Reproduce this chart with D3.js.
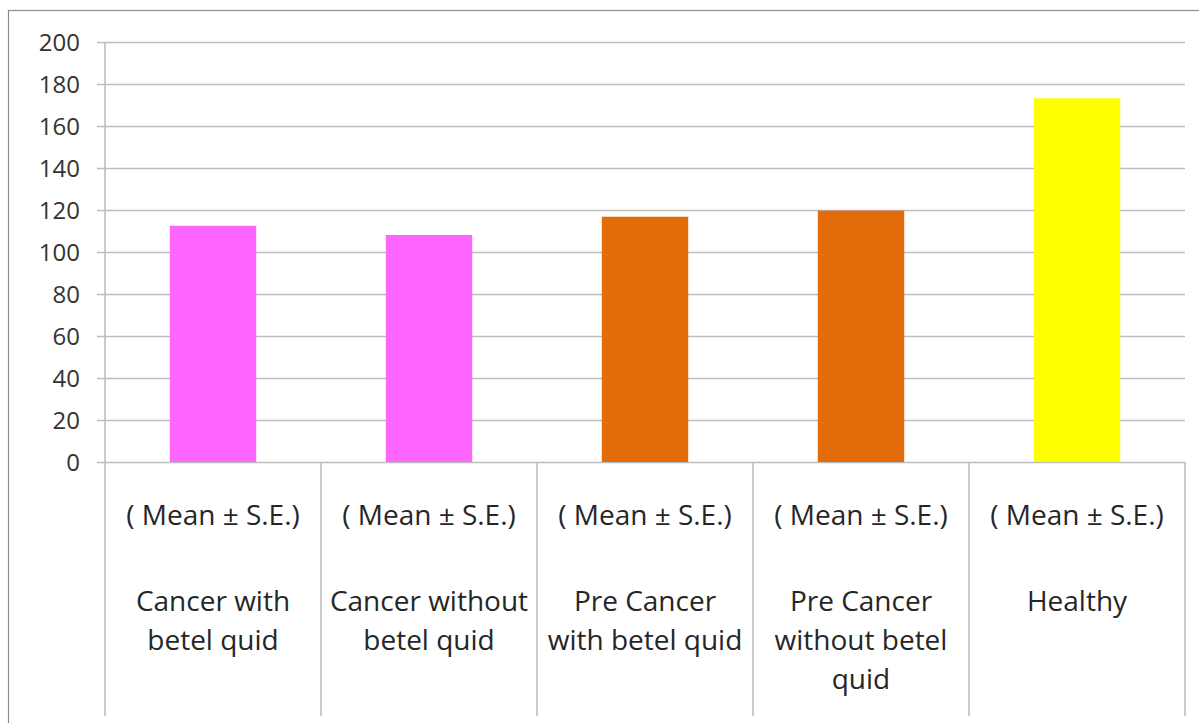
<!DOCTYPE html>
<html>
<head>
<meta charset="utf-8">
<script src="https://cdn.jsdelivr.net/npm/d3@7/dist/d3.min.js"></script>
<style>
  html, body { margin: 0; padding: 0; background: #fff; }
  svg { display: block; }
</style>
</head>
<body>
<svg id="chart" width="1199" height="723"></svg>
<script>
// Group labels (each entry = wrapped lines) and mean values
const categories = [
  ["Cancer with", "betel quid"],
  ["Cancer without", "betel quid"],
  ["Pre Cancer", "with betel quid"],
  ["Pre Cancer", "without betel", "quid"],
  ["Healthy"]
];
const values = [112.5, 108.1, 116.8, 119.7, 173.2];
const barColors = ["#FF66FF", "#FF66FF", "#E36C0A", "#E36C0A", "#FFFF00"];
const yTicks = [0, 20, 40, 60, 80, 100, 120, 140, 160, 180, 200];
const subLabel = "( Mean \u00B1 S.E.)";

const svg = d3.select("#chart");
const plotLeft = 105, plotRight = 1185, plotTop = 42, plotBottom = 462, catBottom = 716;
const font = "'Open Sans', 'Liberation Sans', sans-serif";

// Outer chart frame
svg.append("rect")
  .attr("x", 8.5).attr("y", 10.5)
  .attr("width", 1199).attr("height", 740)
  .attr("fill", "none").attr("stroke", "#8c8c8c").attr("stroke-width", 1.2);

const x = d3.scaleBand()
  .domain(d3.range(categories.length))
  .range([plotLeft, plotRight])
  .paddingInner(0.6).paddingOuter(0.3);

const y = d3.scaleLinear().domain([0, 200]).range([plotBottom, plotTop]);

// Horizontal gridlines with short tick stubs on the left
const yAxis = d3.axisLeft(y)
  .tickValues(yTicks)
  .tickSize(-(plotRight - plotLeft))
  .tickPadding(25)
  .tickFormat(d3.format("d"));
const gy = svg.append("g").attr("transform", `translate(${plotLeft},0)`).call(yAxis);
gy.select(".domain").remove();
gy.selectAll(".tick line").attr("stroke", "#bdbdbd").attr("stroke-width", 1.6).attr("x1", -8);
gy.selectAll(".tick text")
  .attr("fill", "#333")
  .attr("font-family", font)
  .attr("font-size", 24)
  .attr("dy", "0.34em");

// Vertical value axis line
svg.append("line")
  .attr("x1", plotLeft).attr("x2", plotLeft)
  .attr("y1", plotTop).attr("y2", catBottom)
  .attr("stroke", "#bdbdbd").attr("stroke-width", 1.6);

// Bars
svg.append("g").selectAll("rect")
  .data(values)
  .join("rect")
  .attr("x", (d, i) => x(i))
  .attr("width", x.bandwidth())
  .attr("y", d => y(d))
  .attr("height", d => y(0) - y(d))
  .attr("fill", (d, i) => barColors[i]);

// Category divider lines below the baseline
const step = (plotRight - plotLeft) / categories.length;
const bounds = d3.range(categories.length + 1).map(i => plotLeft + i * step);
svg.append("g").selectAll("line")
  .data(bounds.slice(1))
  .join("line")
  .attr("x1", d => d).attr("x2", d => d)
  .attr("y1", plotBottom).attr("y2", catBottom)
  .attr("stroke", "#bdbdbd").attr("stroke-width", 1.6);

// Category labels
const labels = svg.append("g");
categories.forEach((lines, i) => {
  const cx = plotLeft + (i + 0.5) * step;
  labels.append("text")
    .attr("x", cx).attr("y", 525)
    .attr("text-anchor", "middle")
    .attr("font-family", font).attr("font-size", 28)
    .attr("fill", "#262626")
    .text(subLabel);
  lines.forEach((ln, j) => {
    labels.append("text")
      .attr("x", cx).attr("y", 611 + j * 39)
      .attr("text-anchor", "middle")
      .attr("font-family", font).attr("font-size", 28)
      .attr("fill", "#262626")
      .text(ln);
  });
});
</script>
</body>
</html>
